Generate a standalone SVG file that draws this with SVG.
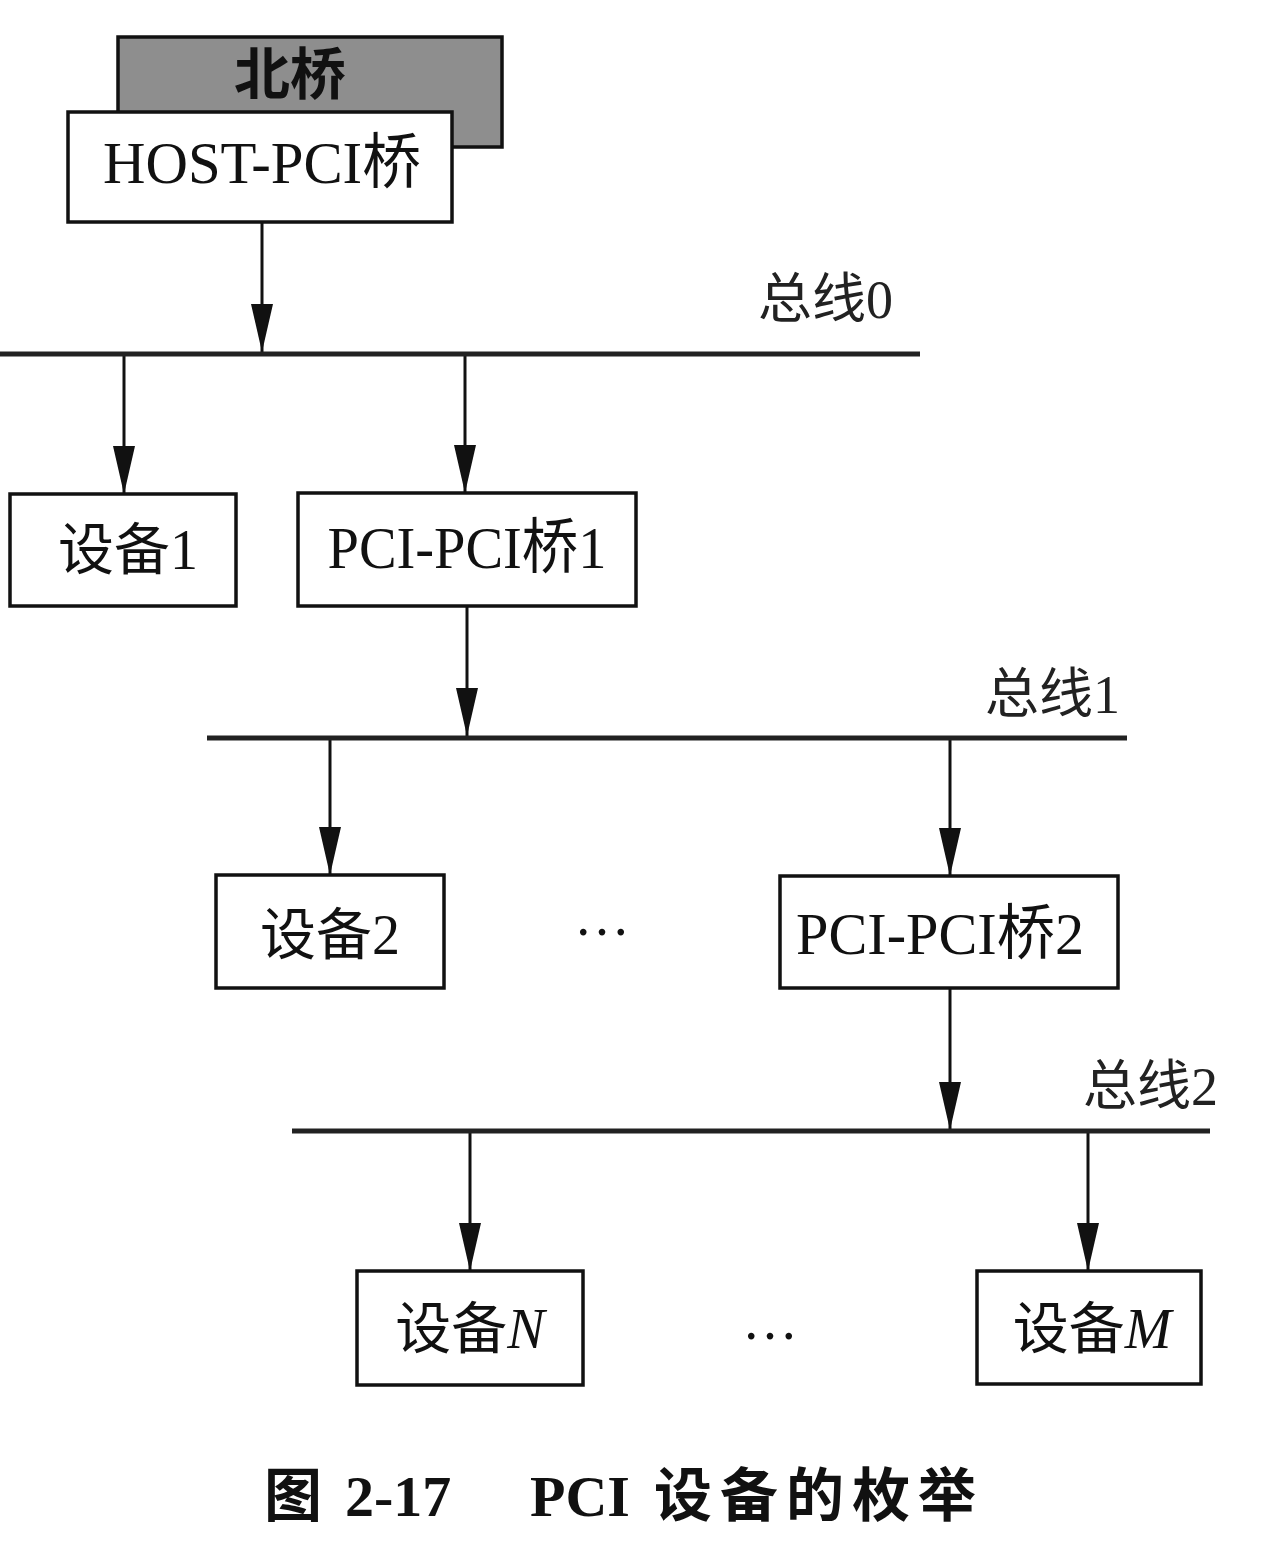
<svg xmlns="http://www.w3.org/2000/svg" width="1277" height="1556" viewBox="0 0 1277 1556">
<style>
  .box{fill:#ffffff;stroke:#111111;stroke-width:3.5}
  .nb{fill:#8e8e8e;stroke:#111111;stroke-width:3.5}
  .lbl{font-family:"Liberation Serif","Noto Sans CJK SC",serif;font-size:56px;fill:#111111;text-anchor:middle}
  .big{font-size:60px}
  .bus{stroke:#222222;stroke-width:5;fill:none}
  .arr{stroke:#111111;stroke-width:3;fill:none;marker-end:url(#ah)}
  .buslbl{font-family:"Liberation Serif","Noto Sans CJK SC",serif;font-size:54px;fill:#222222}
  .cap{font-family:"Liberation Serif","Noto Sans CJK SC",serif;font-size:58px;font-weight:bold;fill:#111111}
  .it{font-style:italic}
</style>
<defs>
  <marker id="ah" viewBox="0 0 48 22" refX="48" refY="11" markerWidth="48" markerHeight="22" markerUnits="userSpaceOnUse" orient="auto">
    <path d="M0,0 L48,11 L0,22 Z" fill="#111111"/>
  </marker>
</defs>
<rect width="1277" height="1556" fill="#ffffff"/>

<g id="connectors">
  <line class="arr" x1="262" y1="222" x2="262" y2="352"/>
  <line class="arr" x1="124" y1="355" x2="124" y2="494"/>
  <line class="arr" x1="465" y1="355" x2="465" y2="493"/>
  <line class="arr" x1="467" y1="606" x2="467" y2="736"/>
  <line class="arr" x1="330" y1="739" x2="330" y2="875"/>
  <line class="arr" x1="950" y1="739" x2="950" y2="876"/>
  <line class="arr" x1="950" y1="988" x2="950" y2="1130"/>
  <line class="arr" x1="470" y1="1133" x2="470" y2="1271"/>
  <line class="arr" x1="1088" y1="1133" x2="1088" y2="1271"/>
</g>

<g id="bus0">
  <line class="bus" x1="0" y1="354" x2="920" y2="354"/>
  <text class="buslbl" x="758" y="318">总线0</text>
</g>
<g id="bus1">
  <line class="bus" x1="207" y1="738" x2="1127" y2="738"/>
  <text class="buslbl" x="985" y="713">总线1</text>
</g>
<g id="bus2">
  <line class="bus" x1="292" y1="1131" x2="1210" y2="1131"/>
  <text class="buslbl" x="1083" y="1105">总线2</text>
</g>

<g id="northbridge">
  <rect class="nb" x="118" y="37" width="384" height="110"/>
  <text class="lbl" x="290" y="94" font-weight="bold">北桥</text>
</g>
<g id="hostpci">
  <rect class="box" x="68" y="112" width="384" height="110"/>
  <text class="lbl big" x="262" y="183" textLength="318" lengthAdjust="spacingAndGlyphs">HOST-PCI桥</text>
</g>
<g id="dev1">
  <rect class="box" x="10" y="494" width="226" height="112"/>
  <text class="lbl" x="128" y="569">设备1</text>
</g>
<g id="ppb1">
  <rect class="box" x="298" y="493" width="338" height="113"/>
  <text class="lbl big" x="467" y="568" textLength="279" lengthAdjust="spacingAndGlyphs">PCI-PCI桥1</text>
</g>
<g id="dev2">
  <rect class="box" x="216" y="875" width="228" height="113"/>
  <text class="lbl" x="330" y="954">设备2</text>
</g>
<g id="ppb2">
  <rect class="box" x="780" y="876" width="338" height="112"/>
  <text class="lbl big" x="940" y="954" textLength="288" lengthAdjust="spacingAndGlyphs">PCI-PCI桥2</text>
</g>
<g id="devN">
  <rect class="box" x="357" y="1271" width="226" height="114"/>
  <text class="lbl" x="470" y="1348">设备<tspan class="it">N</tspan></text>
</g>
<g id="devM">
  <rect class="box" x="977" y="1271" width="224" height="113"/>
  <text class="lbl" x="1092" y="1348">设备<tspan class="it">M</tspan></text>
</g>

<g id="ellipses">
  <text class="lbl" x="602" y="935">…</text>
  <text class="lbl" x="770" y="1339">…</text>
</g>

<g id="caption">
  <text class="cap" x="264" y="1516">图<tspan x="345">2-17</tspan><tspan x="530">PCI</tspan><tspan x="654" textLength="322" lengthAdjust="spacing">设备的枚举</tspan></text>
</g>
</svg>
